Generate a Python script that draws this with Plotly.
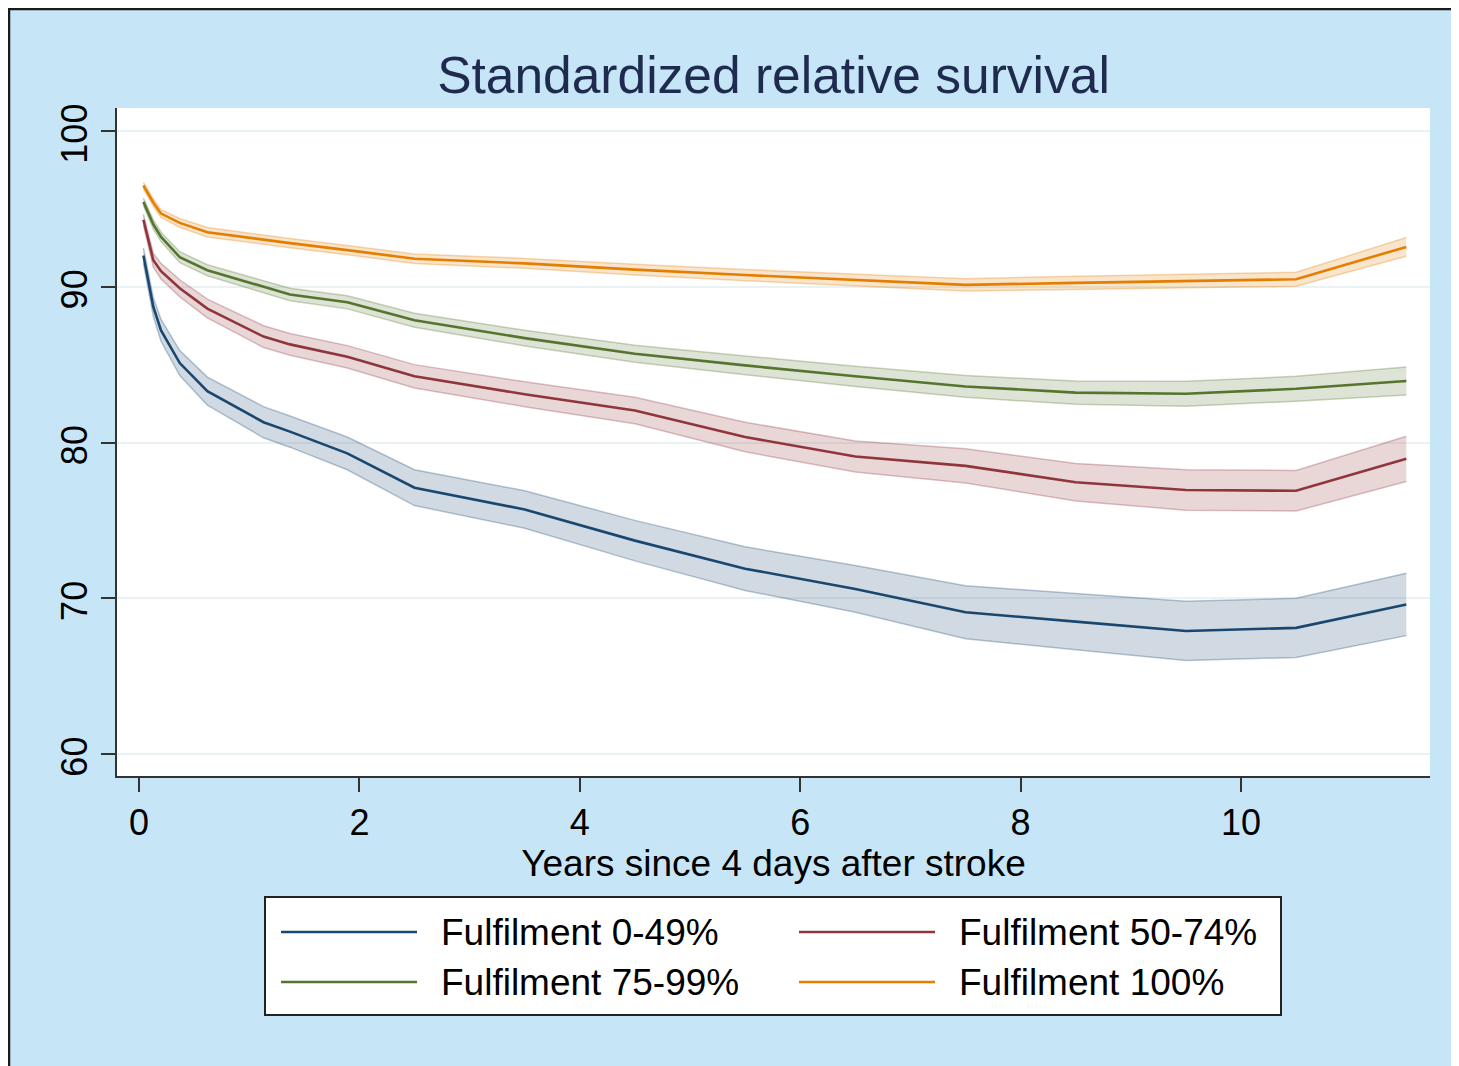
import plotly.graph_objects as go

# years since 4 days after stroke
years = [0.04, 0.13, 0.2, 0.37, 0.62, 1.13, 1.37, 1.89, 2.5, 3.5,
         4.5, 5.5, 6.5, 7.5, 8.5, 9.5, 10.5, 11.5]

# standardized relative survival (%) with confidence band, per fulfilment group
surv_0_49 = [92.0, 88.7, 87.2, 85.1, 83.3, 81.3, 80.7, 79.3, 77.1, 75.7,
             73.7, 71.9, 70.6, 69.1, 68.5, 67.9, 68.1, 69.6]
hi_0_49 = [92.5, 89.3, 87.9, 85.9, 84.2, 82.3, 81.7, 80.35, 78.25, 76.9,
           75.0, 73.3, 72.1, 70.8, 70.3, 69.8, 70.0, 71.6]
lo_0_49 = [91.5, 88.1, 86.5, 84.3, 82.4, 80.3, 79.7, 78.25, 75.95, 74.5,
           72.4, 70.5, 69.1, 67.4, 66.7, 66.0, 66.2, 67.6]

surv_50_74 = [94.3, 91.7, 91.0, 89.9, 88.6, 86.8, 86.3, 85.5, 84.25, 83.1,
              82.05, 80.35, 79.1, 78.5, 77.45, 76.95, 76.9, 78.95]
hi_50_74 = [94.65, 92.15, 91.5, 90.45, 89.2, 87.5, 87.0, 86.22, 85.0, 83.9,
            82.9, 81.3, 80.1, 79.6, 78.65, 78.25, 78.2, 80.4]
lo_50_74 = [93.95, 91.25, 90.5, 89.35, 88.0, 86.1, 85.6, 84.78, 83.5, 82.3,
            81.2, 79.4, 78.1, 77.4, 76.25, 75.65, 75.6, 77.5]

surv_75_99 = [95.45, 94.0, 93.2, 91.9, 91.06, 90.0, 89.5, 89.0, 87.85, 86.7,
              85.7, 84.95, 84.25, 83.6, 83.2, 83.13, 83.45, 83.95]
hi_75_99 = [95.7, 94.3, 93.5, 92.25, 91.41, 90.4, 89.9, 89.42, 88.3, 87.2,
            86.25, 85.55, 84.9, 84.3, 83.95, 83.93, 84.25, 84.85]
lo_75_99 = [95.2, 93.7, 92.9, 91.55, 90.71, 89.6, 89.1, 88.58, 87.4, 86.2,
            85.15, 84.35, 83.6, 82.9, 82.45, 82.33, 82.65, 83.05]

surv_100 = [96.5, 95.4, 94.7, 94.1, 93.5, 93.0, 92.8, 92.35, 91.8, 91.5,
            91.1, 90.75, 90.42, 90.12, 90.25, 90.35, 90.48, 92.56]
hi_100 = [96.7, 95.65, 94.95, 94.38, 93.8, 93.3, 93.1, 92.65, 92.1, 91.82,
          91.44, 91.11, 90.8, 90.52, 90.67, 90.79, 90.93, 93.16]
lo_100 = [96.3, 95.15, 94.45, 93.82, 93.2, 92.7, 92.5, 92.05, 91.5, 91.18,
          90.76, 90.39, 90.04, 89.72, 89.83, 89.91, 90.03, 91.96]

group_names = ["Fulfilment 0-49%", "Fulfilment 50-74%",
               "Fulfilment 75-99%", "Fulfilment 100%"]
x_ticks = [0, 2, 4, 6, 8, 10]
y_ticks = [60, 70, 80, 90, 100]

# Stata s2color-ish palette
colors = [(26, 71, 111), (144, 53, 59), (85, 117, 47), (227, 126, 0)]

series = [
    (surv_0_49, lo_0_49, hi_0_49),
    (surv_50_74, lo_50_74, hi_50_74),
    (surv_75_99, lo_75_99, hi_75_99),
    (surv_100, lo_100, hi_100),
]

# the page body has an 8px margin, so the figure starts at (8, 8) on screen
OFF = 8
W, H = 1459 - OFF, 1066 - OFF
# plot area in screen pixels
PL, PR, PT, PB = 117, 1430, 108, 776
FONT = "Liberation Sans, Arial, sans-serif"
BG = "#c6e6f7"


def rgba(c, a):
    return f"rgba({c[0]},{c[1]},{c[2]},{a})"


def px_x(p):
    return (p - PL) / (PR - PL)


def px_y(p):
    return (PB - p) / (PB - PT)


fig = go.Figure()

# confidence bands
for (est, lo, hi), c in zip(series, colors):
    fig.add_trace(go.Scatter(
        x=years, y=hi, mode="lines",
        line=dict(color=rgba(c, 0.3), width=1.5),
        hoverinfo="skip", showlegend=False,
    ))
    fig.add_trace(go.Scatter(
        x=years, y=lo, mode="lines", fill="tonexty",
        fillcolor=rgba(c, 0.2),
        line=dict(color=rgba(c, 0.3), width=1.5),
        hoverinfo="skip", showlegend=False,
    ))

# point estimates
for (est, lo, hi), c, name in zip(series, colors, group_names):
    fig.add_trace(go.Scatter(
        x=years, y=est, mode="lines", name=name,
        line=dict(color=rgba(c, 1), width=2.6),
        showlegend=False,
    ))

shapes = []
annotations = []

# outer frame (top and left edges visible in the original)
shapes.append(dict(type="line", xref="paper", yref="paper",
                   x0=px_x(OFF), x1=px_x(1470), y0=px_y(OFF + 1), y1=px_y(OFF + 1),
                   line=dict(color="#1a1a1a", width=2.5), layer="above"))
shapes.append(dict(type="line", xref="paper", yref="paper",
                   x0=px_x(OFF + 1), x1=px_x(OFF + 1), y0=px_y(OFF), y1=px_y(1080),
                   line=dict(color="#1a1a1a", width=2.5), layer="above"))

# hand-built legend box: two columns, long line samples
shapes.append(dict(type="rect", xref="paper", yref="paper",
                   x0=px_x(265), x1=px_x(1281), y0=px_y(897), y1=px_y(1015),
                   fillcolor="white", line=dict(color="#222222", width=2)))
col_x = [281, 799]
row_y = [932, 982]
for i, (name, c) in enumerate(zip(group_names, colors)):
    cx = col_x[i % 2]
    ry = row_y[i // 2]
    shapes.append(dict(type="line", xref="paper", yref="paper",
                       x0=px_x(cx), x1=px_x(cx + 136), y0=px_y(ry), y1=px_y(ry),
                       line=dict(color=rgba(c, 1), width=2.5)))
    annotations.append(dict(xref="paper", yref="paper", x=px_x(cx + 158), y=px_y(ry),
                            xanchor="left", yanchor="middle", text=name, showarrow=False,
                            font=dict(family=FONT, size=37, color="black")))

fig.update_layout(
    width=W, height=H,
    margin=dict(l=PL - OFF, r=OFF + W - PR, t=PT - OFF, b=OFF + H - PB, pad=0),
    paper_bgcolor=BG,
    plot_bgcolor="white",
    font=dict(family=FONT, size=36, color="black"),
    title=dict(text="Standardized relative survival", x=0.5, xref="paper",
               y=1 - (75 - OFF) / H, yref="container", xanchor="center", yanchor="middle",
               font=dict(family=FONT, size=51.5, color="#1e2b4f")),
    shapes=shapes,
    annotations=annotations,
    showlegend=False,
)

fig.update_xaxes(
    range=[(PL - 139) / 110.2, (PR - 139) / 110.2],
    tickvals=x_ticks, ticks="outside", ticklen=14, tickwidth=2, tickcolor="#333333",
    showline=True, linecolor="#333333", linewidth=2, showgrid=False, zeroline=False,
    tickfont=dict(size=36),
    title=dict(text="Years since 4 days after stroke", font=dict(size=37), standoff=0),
)
fig.update_yaxes(
    range=[60 - (PB - 754) / 15.575, 100 + (131 - PT) / 15.575],
    tickvals=y_ticks, ticks="outside", ticklen=14, tickwidth=2, tickcolor="#333333",
    showline=True, linecolor="#333333", linewidth=2,
    showgrid=True, gridcolor="#eaf2f3", gridwidth=2, zeroline=False,
    tickangle=-90, tickfont=dict(size=36), ticklabelshift=8,
)

fig.write_html("out.html")
